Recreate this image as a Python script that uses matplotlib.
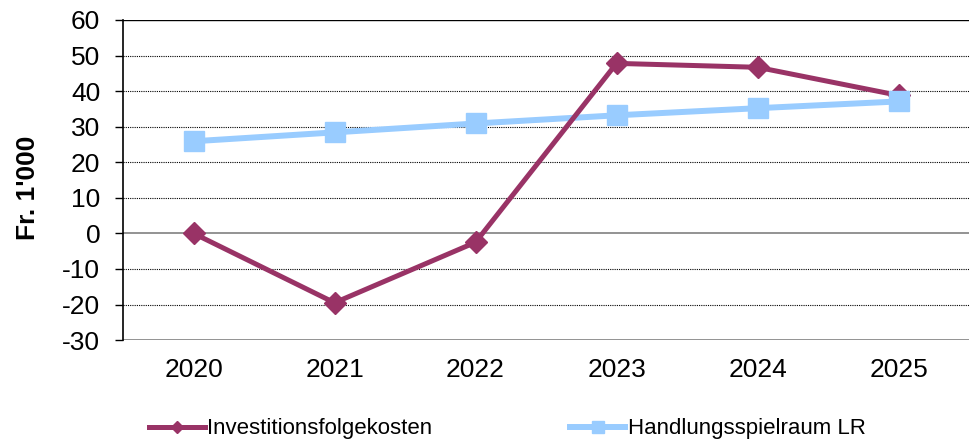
import matplotlib.pyplot as plt

plt.rcParams['font.family'] = ['Liberation Sans', 'DejaVu Sans']
plt.rcParams['axes.unicode_minus'] = False

years = ['2020', '2021', '2022', '2023', '2024', '2025']
invest = [0, -19.5, -2.5, 47.8, 46.7, 38.8]
handlung = [25.9, 28.4, 30.9, 33.2, 35.2, 37.1]

purple = '#993366'
blue = '#99CCFF'

fig = plt.figure(figsize=(9.69, 4.44), dpi=100)
ax = fig.add_axes([0.127, 0.234, 0.873, 0.721])

x = list(range(len(years)))
# lines: purple over blue, but blue markers on top (as in the original)
ax.plot(x, handlung, '-', color=blue, lw=4.3, zorder=2)
ax.plot(x, invest, '-', color=purple, lw=3.6, zorder=3)
ax.plot(x, invest, 'D', color=purple, ms=11, zorder=4)
ax.plot(x, handlung, 's', color=blue, ms=14, zorder=5)

ax.set_xlim(-0.5, 5.5)
ax.set_ylim(-30, 60)
ax.set_yticks(range(-30, 61, 10))
ax.set_xticks(x)
ax.set_xticklabels(years)
ax.tick_params(axis='both', labelsize=19)
ax.tick_params(axis='x', length=0, pad=13)
ax.tick_params(axis='y', length=6, width=1, direction='out', pad=10.5)

for v in range(-20, 51, 10):
    if v == 0:
        ax.axhline(v, color='#808080', lw=1.2, zorder=1)
    else:
        ax.axhline(v, color='black', lw=0.8, ls=(0, (1, 1)), zorder=1)
ax.axhline(60, color='black', lw=1.0, zorder=1)
ax.axhline(-30, color='#808080', lw=1.2, zorder=1)

for s in ['top', 'right', 'bottom']:
    ax.spines[s].set_visible(False)
ax.spines['left'].set_linewidth(1.2)

ax.set_ylabel("Fr. 1'000", fontsize=19, fontweight='bold', labelpad=16)
ax.yaxis.label.set_y(0.475)

# legend entries
h1, = ax.plot([], [], '-D', color=purple, lw=3.6, ms=6)
h2, = ax.plot([], [], '-s', color=blue, lw=4.3, ms=8)
fig.legend([h1, h2], ['Investitionsfolgekosten', 'Handlungsspielraum LR'],
           loc='center left', bbox_to_anchor=(0.154, 0.034), ncol=2, frameon=False,
           fontsize=16, columnspacing=6.2, handlelength=2.5, handletextpad=0.1,
           borderpad=0, borderaxespad=0)

fig.savefig('out.png', dpi=100)
